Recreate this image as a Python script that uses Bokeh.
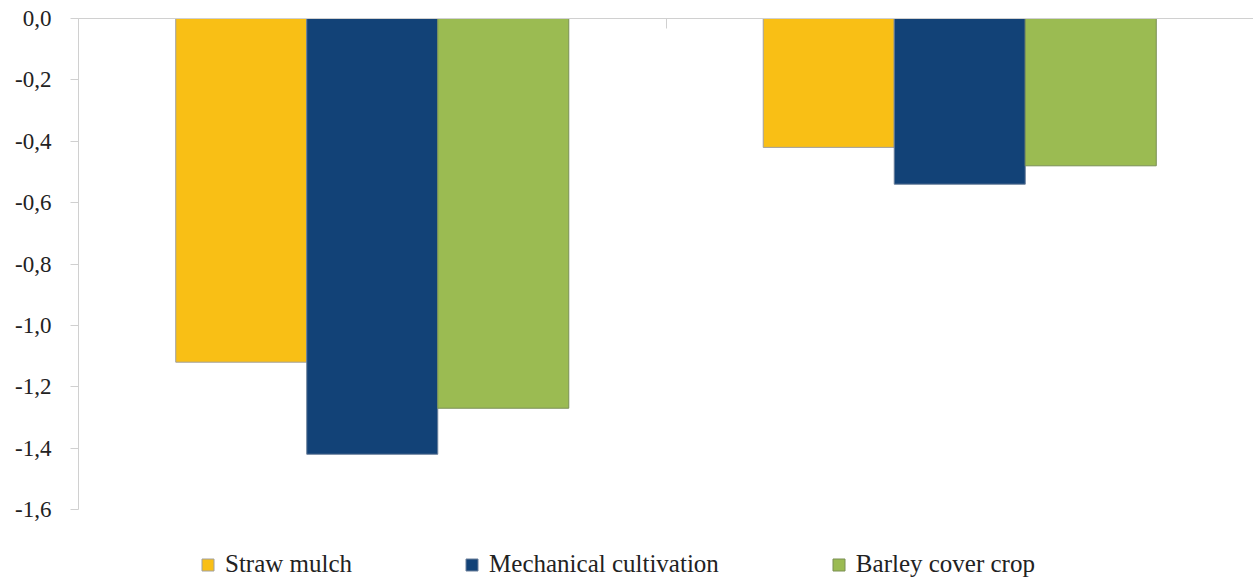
from bokeh.plotting import figure
from bokeh.models import (ColumnDataSource, Range1d, LinearAxis,
                          FixedTicker, Legend, LegendItem)
from bokeh.embed import file_html
from bokeh.resources import INLINE

groups = ["Site 1", "Site 2"]
series = ["Straw mulch", "Mechanical cultivation", "Barley cover crop"]
straw_mulch = [-1.12, -0.42]
mechanical = [-1.42, -0.54]
barley = [-1.27, -0.48]
y_ticks = [0.0, -0.2, -0.4, -0.6, -0.8, -1.0, -1.2, -1.4, -1.6]
y_tick_labels = ["0,0", "-0,2", "-0,4", "-0,6", "-0,8", "-1,0", "-1,2", "-1,4", "-1,6"]
y_min, y_max = -1.6, 0.0

colors = ["#F9BF15", "#124277", "#9BBB52"]
outlines = ["#a0a0a0", "#6a7f9a", "#7a8f55"]
FONT = "Liberation Serif"

# the plot area keeps 491 px for the value scale; the remaining strip
# below it holds the legend
axis_px = 491
frame_h = 562
y_low = y_max - (y_max - y_min) * frame_h / axis_px

# group i occupies the unit interval [i, i+1]
centers = [i + 0.5 for i in range(len(groups))]
values = {"straw": straw_mulch, "mech": mechanical, "barley": barley}

p = figure(x_range=Range1d(0, len(groups)), y_range=Range1d(y_low, y_max),
           frame_width=1175, frame_height=frame_h, output_backend="svg",
           toolbar_location=None, x_axis_location=None,
           min_border_left=78, min_border_right=0,
           min_border_top=18, min_border_bottom=0)
p.outline_line_color = None
p.xgrid.visible = False
p.ygrid.visible = False

bw = 0.223
renderers = []
for i, col in enumerate(["straw", "mech", "barley"]):
    xs = [c + (i - 1) * bw for c in centers]
    src = ColumnDataSource(dict(x=xs, v=values[col]))
    r = p.vbar(x="x", top=0, bottom="v", width=bw, source=src,
               fill_color=colors[i], line_color=outlines[i], line_width=1)
    renderers.append(r)

# value axis
ya = p.yaxis[0]
ya.bounds = (y_min, y_max)
ya.ticker = FixedTicker(ticks=y_ticks)
ya.major_label_overrides = {t: s for t, s in zip(y_ticks, y_tick_labels)}
ya.axis_line_color = "#d0d0d0"
ya.major_tick_line_color = "#d0d0d0"
ya.major_tick_in = 0
ya.major_tick_out = 8
ya.minor_tick_line_color = None
ya.major_label_standoff = 19
ya.major_label_text_font = FONT
ya.major_label_text_font_size = "23px"
ya.major_label_text_color = "#222222"

# category axis along zero, with separator ticks between groups
top_axis = LinearAxis(ticker=FixedTicker(ticks=list(range(len(groups) + 1))),
                      major_label_text_font_size="0px",
                      axis_line_color="#d0d0d0",
                      major_tick_line_color="#d0d0d0",
                      major_tick_in=10, major_tick_out=0,
                      minor_tick_line_color=None)
p.add_layout(top_axis, "above")

# legend along the bottom
legend = Legend(items=[LegendItem(label=n, renderers=[r])
                       for n, r in zip(series, renderers)],
                location=(122, 2), orientation="horizontal",
                border_line_color=None, background_fill_alpha=0,
                padding=0, margin=0, spacing=112,
                glyph_width=15, glyph_height=15, label_standoff=10,
                label_text_font=FONT, label_text_font_size="25px",
                label_text_color="#222222")
p.add_layout(legend, "center")

open("out.html", "w").write(file_html(p, INLINE))
